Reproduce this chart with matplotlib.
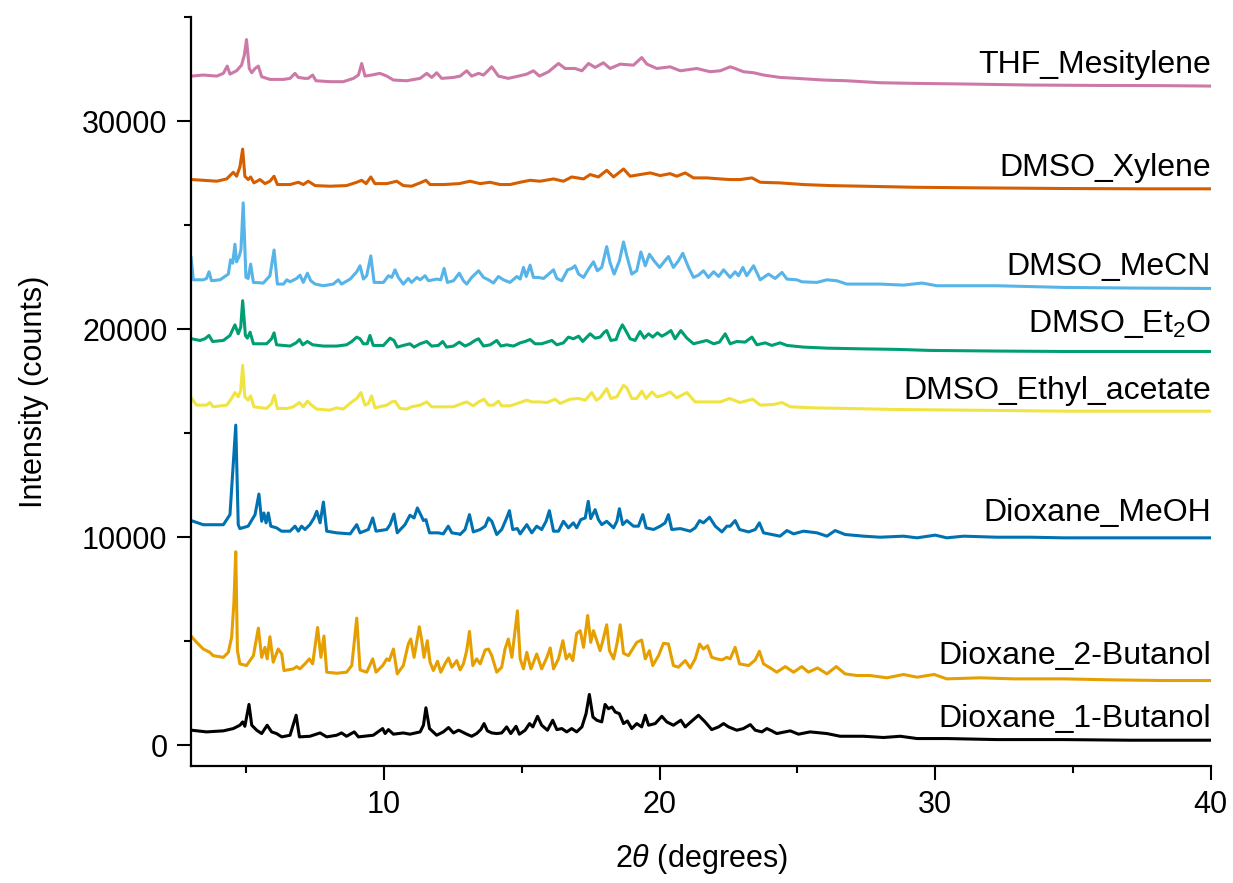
import matplotlib
matplotlib.use("Agg")
import matplotlib.pyplot as plt
from matplotlib.ticker import MultipleLocator

plt.rcParams['font.family'] = ['Liberation Sans', 'DejaVu Sans']
plt.rcParams['mathtext.fontset'] = 'custom'
plt.rcParams['mathtext.rm'] = 'Liberation Sans'
plt.rcParams['mathtext.it'] = 'Liberation Sans:italic'

# ---------------- data (2theta, stacked intensity) ----------------
names = ["Dioxane_1-Butanol", "Dioxane_2-Butanol", "Dioxane_MeOH",
         "DMSO_Ethyl_acetate", r"DMSO_Et$_2$O", "DMSO_MeCN",
         "DMSO_Xylene", "THF_Mesitylene"]
colors = ["#000000", "#E69F00", "#0072B2", "#F0E442",
          "#009E73", "#56B4E9", "#D55E00", "#CC79A7"]
label_y = [860, 3920, 10770, 16650, 19860, 22630, 27370, 32300]

but1_x = [3.02, 3.56, 4.17, 4.53, 4.77, 4.87, 4.95, 5.10, 5.20, 5.38, 5.56, 5.76, 5.92, 6.10, 6.29, 6.59, 6.81, 6.93,
          7.31, 7.68, 7.92, 8.28, 8.46, 8.64, 8.92, 9.07, 9.61, 9.95, 10.04, 10.16, 10.34, 10.70, 10.94, 11.31, 11.43,
          11.52, 11.65, 11.91, 12.15, 12.34, 12.52, 12.70, 12.76, 13.00, 13.18, 13.36, 13.51, 13.63, 13.75, 13.91,
          14.09, 14.27, 14.45, 14.60, 14.79, 14.91, 15.12, 15.28, 15.40, 15.57, 15.72, 15.93, 16.12, 16.27, 16.45,
          16.63, 16.81, 16.99, 17.18, 17.33, 17.45, 17.58, 17.72, 17.90, 18.02, 18.14, 18.27, 18.39, 18.54, 18.69,
          18.83, 18.99, 19.17, 19.35, 19.48, 19.60, 19.84, 20.08, 20.26, 20.50, 20.77, 20.93, 21.17, 21.41, 21.65,
          21.89, 22.14, 22.32, 22.50, 22.80, 23.04, 23.29, 23.47, 23.71, 23.89, 24.07, 24.25, 24.74, 25.04, 25.46,
          26.07, 26.55, 27.40, 28.12, 28.73, 29.34, 30.42, 32.24, 34.66, 37.08, 40.0]
but1_y = [720, 640, 690, 800, 960, 1120, 910, 1960, 960, 720, 560, 960, 640, 560, 400, 480, 1440, 400,
          430, 590, 400, 480, 590, 430, 640, 400, 480, 800, 560, 750, 530, 590, 530, 640, 960,
          1800, 800, 480, 640, 850, 590, 720, 690, 530, 430, 560, 750, 1040, 690, 590,
          560, 590, 880, 560, 910, 530, 720, 1040, 880, 1390, 960, 720, 1200, 750, 800,
          640, 800, 640, 880, 1515, 2440, 1355, 1200, 1120, 1960, 1755, 1835, 1595, 1515, 1040,
          1165, 800, 1040, 880, 1440, 960, 1040, 1390, 1120, 960, 1200, 880, 1165, 1440, 1120,
          750, 880, 1040, 880, 720, 800, 990, 720, 640, 800, 690, 560, 690, 530, 640,
          560, 430, 430, 370, 430, 320, 320, 270, 270, 240, 240]

but2_x = [3.02, 3.20, 3.44, 3.68, 3.80, 4.17, 4.35, 4.47, 4.55, 4.62, 4.68, 4.77, 5.01, 5.26, 5.44, 5.56, 5.68,
          5.76, 5.86, 5.98, 6.16, 6.29, 6.37, 6.71, 6.83, 6.95, 7.13, 7.29, 7.41, 7.59, 7.71, 7.82, 7.92, 8.28,
          8.64, 8.83, 9.01, 9.13, 9.37, 9.59, 9.71, 9.95, 10.10, 10.19, 10.34, 10.48, 10.70, 10.88, 10.97, 11.09,
          11.28, 11.37, 11.45, 11.57, 11.67, 11.79, 11.94, 12.06, 12.21, 12.34, 12.46, 12.64, 12.76, 12.88, 13.00,
          13.10, 13.22, 13.36, 13.49, 13.67, 13.79, 13.91, 14.09, 14.27, 14.39, 14.51, 14.64, 14.76, 14.84, 14.94,
          15.06, 15.18, 15.33, 15.54, 15.72, 15.91, 16.03, 16.15, 16.33, 16.49, 16.61, 16.73, 16.85, 16.99, 17.12,
          17.24, 17.39, 17.50, 17.60, 17.72, 17.84, 17.94, 18.08, 18.18, 18.33, 18.45, 18.57, 18.69, 18.87, 19.00,
          19.17, 19.35, 19.48, 19.63, 19.75, 19.96, 20.14, 20.32, 20.50, 20.68, 20.93, 21.11, 21.29, 21.45, 21.59,
          21.74, 21.89, 22.08, 22.26, 22.44, 22.56, 22.74, 22.90, 23.23, 23.47, 23.62, 23.77, 24.07, 24.25, 24.56,
          24.86, 25.16, 25.40, 25.73, 26.07, 26.41, 26.73, 27.16, 27.64, 28.25, 28.85, 29.34, 29.96, 30.42, 31.63,
          32.84, 34.66, 36.47, 38.29, 40.0]
but2_y = [5215, 4945, 4625, 4465, 4305, 4225, 4465, 5185, 6780, 9300, 4545, 3910, 3830, 4305, 5630, 4225, 4705,
          4150, 5215, 3990, 4625, 4385, 3590, 3670, 3780, 3670, 3910, 4150, 3910, 5660, 4225, 5250, 3510, 3460,
          3510, 3830, 6110, 3620, 3510, 4150, 3510, 3830, 4150, 4070, 4625, 3430, 3830, 4865, 5105, 4225,
          5695, 5025, 4225, 5025, 3990, 3590, 4035, 3510, 3910, 4195, 3750, 4070, 3620, 3910, 4545,
          5470, 3830, 4150, 3910, 4580, 4625, 4305, 3510, 3750, 4625, 5105, 4225, 5580, 6460, 4150,
          3670, 4465, 3670, 4385, 3670, 4225, 4675, 3670, 4150, 5025, 4150, 4385, 4070, 5375, 5505,
          4705, 6235, 4945, 5505, 5025, 4545, 5025, 5790, 4545, 4150, 4865, 5790, 4420, 4305, 4580,
          4945, 5055, 4150, 4545, 3830, 4305, 4900, 4865, 3830, 3750, 4070, 3715, 4150, 4865, 4625,
          4785, 4225, 4150, 4100, 4225, 4150, 4705, 3910, 3830, 4100, 4515, 3910, 3670, 3510, 3780,
          3510, 3780, 3510, 3715, 3430, 3780, 3430, 3350, 3350, 3240, 3400, 3270, 3400, 3190, 3240,
          3190, 3190, 3140, 3110, 3110]

meoh_x = [3.00, 3.44, 4.17, 4.41, 4.62, 4.71, 4.77, 5.07, 5.32, 5.46, 5.56, 5.64, 5.72, 5.80, 5.89, 6.10, 6.28,
          6.59, 6.77, 6.89, 7.01, 7.13, 7.31, 7.46, 7.56, 7.68, 7.80, 7.92, 8.28, 8.77, 9.01, 9.13, 9.43, 9.59,
          9.71, 10.10, 10.22, 10.36, 10.48, 10.76, 10.94, 11.09, 11.21, 11.33, 11.43, 11.52, 11.65, 11.97, 12.15,
          12.33, 12.46, 12.70, 12.76, 12.94, 13.10, 13.24, 13.49, 13.67, 13.79, 13.91, 14.09, 14.27, 14.45, 14.55,
          14.67, 14.84, 14.94, 15.18, 15.36, 15.54, 15.72, 15.88, 16.00, 16.15, 16.33, 16.51, 16.69, 16.87, 16.99,
          17.14, 17.30, 17.41, 17.50, 17.66, 17.78, 17.90, 18.08, 18.33, 18.45, 18.54, 18.66, 18.81, 19.05, 19.23,
          19.39, 19.51, 19.78, 20.02, 20.20, 20.32, 20.44, 20.75, 21.11, 21.29, 21.45, 21.59, 21.81, 22.02, 22.26,
          22.44, 22.56, 22.74, 22.90, 23.23, 23.47, 23.62, 23.77, 24.37, 24.62, 24.86, 25.22, 25.71, 26.07, 26.37,
          26.73, 27.40, 28.00, 28.85, 29.34, 30.00, 30.42, 31.03, 32.24, 33.45, 34.66, 35.87, 37.68, 40.0]
meoh_y = [10800, 10600, 10600, 11085, 15390, 10600, 10415, 10530, 11085, 12075, 10765, 11165, 10690, 11165, 10530,
          10450, 10290, 10290, 10530, 10290, 10530, 10370, 10605, 10925, 11245, 10690, 11690, 10290, 10210, 10160,
          10605, 10210, 10370, 10925, 10290, 10370, 10605, 11115, 10210, 10605, 11055, 10925, 11405, 11085, 10800,
          10845, 10210, 10210, 10160, 10530, 10210, 10160, 10130, 10370, 11085, 10255, 10370, 10530, 10925, 10765,
          10130, 10370, 10925, 11275, 10370, 10415, 10160, 10605, 10210, 10530, 10370, 10765, 11275, 10290, 10290,
          10765, 10450, 10690, 10450, 10845, 10925, 11725, 10895, 11325, 10845, 10605, 10765, 10450, 10765, 11370,
          10605, 10800, 10530, 10530, 11085, 10450, 10370, 10530, 10690, 11085, 10370, 10415, 10290, 10450, 10800,
          10690, 10960, 10530, 10255, 10530, 10530, 10800, 10370, 10255, 10370, 10690, 10210, 10050, 10320, 10160,
          10290, 10210, 10050, 10320, 10130, 10050, 10000, 10050, 9970, 10100, 9970, 10050, 10000, 10000, 9970,
          9970, 9970, 9970]

etac_x = [3.02, 3.20, 3.56, 3.68, 3.80, 4.29, 4.47, 4.59, 4.71, 4.80, 4.87, 4.95, 5.07, 5.16, 5.28, 5.74, 5.92,
          6.02, 6.13, 6.47, 6.71, 6.93, 7.07, 7.22, 7.37, 7.56, 8.04, 8.28, 8.52, 8.83, 9.01, 9.16, 9.31, 9.43,
          9.55, 9.67, 10.10, 10.28, 10.40, 10.58, 10.82, 11.00, 11.31, 11.55, 11.73, 12.15, 12.52, 12.73, 13.00,
          13.24, 13.43, 13.63, 13.79, 13.97, 14.15, 14.27, 14.57, 14.94, 15.18, 15.36, 15.66, 15.91, 16.21, 16.39,
          16.75, 17.06, 17.30, 17.54, 17.70, 17.84, 18.08, 18.23, 18.45, 18.69, 18.81, 18.99, 19.17, 19.35, 19.51,
          19.72, 19.90, 20.14, 20.38, 20.62, 20.99, 21.29, 21.71, 22.20, 22.54, 22.92, 23.38, 23.65, 24.13, 24.44,
          24.74, 25.58, 26.79, 28.61, 31.03, 34.66, 37.08, 40.0]
etac_y = [16670, 16350, 16350, 16475, 16270, 16350, 16670, 16955, 16750, 17065, 18260, 16750, 16590, 16795, 16270,
          16190, 16430, 16825, 16190, 16190, 16270, 16475, 16270, 16540, 16350, 16160, 16110, 16220, 16160, 16505,
          16670, 16955, 16350, 16430, 16795, 16220, 16350, 16505, 16540, 16190, 16160, 16270, 16350, 16505, 16270,
          16270, 16270, 16380, 16505, 16315, 16505, 16635, 16350, 16350, 16540, 16315, 16315, 16475, 16590, 16505,
          16505, 16475, 16635, 16430, 16635, 16670, 16590, 16955, 16590, 16700, 17145, 16670, 16750, 17305, 17180,
          16670, 16670, 17020, 16670, 16985, 16750, 16825, 16985, 16700, 16955, 16505, 16505, 16505, 16670, 16475,
          16635, 16350, 16380, 16475, 16270, 16220, 16190, 16140, 16110, 16060, 16060, 16060]

et2o_x = [3.02, 3.32, 3.50, 3.65, 3.78, 4.17, 4.41, 4.59, 4.71, 4.80, 4.87, 4.97, 5.04, 5.14, 5.26, 5.74, 5.92,
          6.01, 6.10, 6.59, 6.81, 6.93, 7.05, 7.22, 7.41, 7.80, 8.28, 8.64, 8.83, 9.01, 9.13, 9.25, 9.39, 9.49,
          9.61, 9.98, 10.22, 10.36, 10.48, 10.70, 10.94, 11.09, 11.31, 11.55, 11.73, 11.97, 12.13, 12.27, 12.52,
          12.73, 12.94, 13.12, 13.30, 13.43, 13.61, 13.85, 14.09, 14.24, 14.45, 14.70, 14.94, 15.12, 15.30, 15.48,
          15.72, 15.91, 16.09, 16.27, 16.51, 16.69, 16.87, 17.06, 17.21, 17.36, 17.48, 17.66, 17.84, 17.99, 18.08,
          18.23, 18.42, 18.54, 18.65, 18.77, 18.93, 19.11, 19.29, 19.44, 19.60, 19.75, 19.92, 20.08, 20.24, 20.41,
          20.56, 20.77, 20.99, 21.23, 21.47, 21.71, 21.96, 22.17, 22.38, 22.56, 22.80, 23.10, 23.35, 23.53, 23.83,
          24.07, 24.37, 24.62, 25.22, 26.07, 27.16, 28.61, 29.82, 32.24, 34.66, 37.08, 40.0]
et2o_y = [19540, 19460, 19540, 19700, 19410, 19460, 19700, 20210, 19780, 20095, 21370, 19700, 19570, 19855, 19300,
          19300, 19540, 19825, 19250, 19190, 19345, 19505, 19250, 19410, 19250, 19190, 19190, 19250, 19410, 19620,
          19540, 19300, 19300, 19700, 19220, 19220, 19570, 19460, 19140, 19220, 19300, 19140, 19300, 19410, 19190,
          19220, 19410, 19140, 19190, 19380, 19190, 19300, 19460, 19540, 19190, 19250, 19460, 19190, 19250, 19190,
          19345, 19410, 19505, 19300, 19300, 19380, 19460, 19250, 19345, 19620, 19540, 19665, 19410, 19620, 19780,
          19570, 19620, 19855, 19935, 19460, 19505, 19935, 20210, 19935, 19540, 19460, 19890, 19570, 19780, 19620,
          19825, 19665, 19780, 19935, 19540, 19935, 19570, 19300, 19380, 19460, 19300, 19380, 19780, 19300, 19410,
          19380, 19620, 19250, 19345, 19220, 19345, 19220, 19140, 19090, 19060, 19030, 18980, 18950, 18930, 18930,
          18930]

mecn_x = [3.00, 3.08, 3.44, 3.56, 3.65, 3.74, 4.05, 4.35, 4.43, 4.51, 4.59, 4.65, 4.75, 4.81, 4.89, 4.99, 5.07,
          5.16, 5.26, 5.62, 5.86, 6.01, 6.13, 6.35, 6.47, 6.59, 6.83, 6.95, 7.07, 7.22, 7.34, 7.50, 7.80, 8.16,
          8.34, 8.46, 8.77, 9.01, 9.13, 9.25, 9.37, 9.52, 9.64, 9.98, 10.16, 10.28, 10.40, 10.52, 10.70, 10.88,
          11.00, 11.19, 11.31, 11.49, 11.61, 11.91, 12.06, 12.18, 12.30, 12.52, 12.73, 12.88, 13.00, 13.18, 13.43,
          13.61, 13.79, 13.97, 14.15, 14.33, 14.57, 14.82, 14.94, 15.06, 15.16, 15.30, 15.42, 15.60, 15.79, 15.97,
          16.15, 16.27, 16.45, 16.66, 16.81, 16.93, 17.06, 17.24, 17.42, 17.60, 17.74, 17.90, 18.08, 18.20, 18.35,
          18.54, 18.69, 18.81, 18.99, 19.17, 19.32, 19.48, 19.63, 19.80, 20.00, 20.16, 20.32, 20.50, 20.68, 20.84,
          21.05, 21.23, 21.41, 21.59, 21.77, 21.96, 22.14, 22.32, 22.56, 22.74, 22.86, 23.02, 23.16, 23.41, 23.65,
          23.95, 24.19, 24.44, 24.62, 24.98, 25.16, 25.71, 26.07, 26.43, 26.79, 28.00, 28.85, 29.52, 30.06, 32.24,
          34.66, 37.08, 40.0]
mecn_y = [23445, 22375, 22375, 22440, 22760, 22330, 22375, 22650, 23335, 23175, 24085, 23240, 23525, 23845, 26075,
          22490, 22440, 23130, 22250, 22220, 22570, 23810, 22170, 22170, 22375, 22280, 22440, 22600, 22250, 22695,
          22330, 22170, 22090, 22170, 22375, 22170, 22410, 22760, 23050, 22410, 22570, 23525, 22250, 22250, 22570,
          22490, 22855, 22490, 22170, 22440, 22250, 22490, 22375, 22570, 22330, 22410, 22375, 22920, 22250, 22330,
          22695, 22330, 22170, 22490, 22810, 22490, 22375, 22220, 22535, 22375, 22250, 22535, 22410, 22970, 22535,
          23080, 22490, 22490, 22440, 22650, 22855, 22440, 22330, 22855, 22920, 23050, 22650, 22490, 22890, 23240,
          22810, 22970, 23970, 23205, 22650, 23285, 24195, 23525, 22650, 22810, 23715, 23050, 23605, 23285, 22970,
          23240, 23495, 22970, 23285, 23650, 22970, 22490, 22600, 22810, 22490, 22760, 22535, 22855, 22490, 22760,
          22570, 22970, 22570, 23050, 22375, 22650, 22440, 22730, 22410, 22375, 22280, 22250, 22375, 22330, 22170,
          22170, 22120, 22220, 22090, 22090, 22010, 21980, 21960]

xyl_x = [3.02, 3.44, 3.93, 4.29, 4.53, 4.65, 4.77, 4.87, 4.95, 5.07, 5.16, 5.28, 5.50, 5.68, 5.86, 6.01, 6.13, 6.59,
         6.89, 7.07, 7.25, 7.50, 8.04, 8.64, 9.01, 9.19, 9.35, 9.52, 9.67, 10.10, 10.46, 10.70, 11.00, 11.31, 11.52,
         11.67, 12.15, 12.73, 13.12, 13.49, 13.85, 14.21, 14.57, 14.94, 15.30, 15.66, 16.15, 16.51, 16.81, 17.24,
         17.48, 17.78, 18.08, 18.33, 18.69, 18.93, 19.29, 19.66, 20.02, 20.38, 20.62, 20.93, 21.23, 21.71, 22.20,
         22.56, 22.92, 23.35, 23.65, 24.37, 25.22, 26.19, 27.40, 29.21, 31.63, 34.66, 37.68, 40.0]
xyl_y = [27195, 27160, 27115, 27225, 27545, 27355, 27800, 28660, 27355, 27195, 27320, 27035, 27195, 27000, 27115,
         27355, 26955, 26955, 27065, 26955, 27115, 26905, 26875, 26905, 27065, 27160, 27000, 27320, 27000, 27000,
         27115, 26905, 26875, 27035, 27160, 26955, 26955, 27000, 27115, 27000, 27065, 26955, 26955, 27065, 27160,
         27115, 27225, 27115, 27320, 27225, 27435, 27320, 27640, 27320, 27705, 27355, 27435, 27515, 27385, 27480,
         27355, 27515, 27275, 27275, 27225, 27195, 27195, 27275, 27065, 27035, 26955, 26905, 26875, 26825, 26795,
         26765, 26750, 26750]

thf_x = [3.02, 3.44, 3.93, 4.17, 4.31, 4.41, 4.65, 4.83, 4.93, 5.01, 5.11, 5.20, 5.32, 5.44, 5.56, 5.86, 6.35, 6.59,
         6.77, 6.89, 7.13, 7.25, 7.41, 7.53, 8.04, 8.52, 8.89, 9.07, 9.19, 9.31, 9.55, 9.85, 10.10, 10.34, 10.82,
         11.31, 11.55, 11.73, 11.91, 12.09, 12.52, 12.76, 13.00, 13.18, 13.43, 13.61, 13.91, 14.15, 14.51, 14.88,
         15.18, 15.42, 15.64, 15.97, 16.33, 16.57, 16.93, 17.18, 17.42, 17.66, 17.96, 18.20, 18.57, 19.05, 19.35,
         19.54, 19.90, 20.38, 20.75, 21.35, 21.83, 22.20, 22.56, 22.74, 23.04, 23.41, 23.77, 24.37, 24.98, 25.95,
         26.79, 28.00, 29.21, 31.03, 33.45, 35.87, 38.29, 40.0]
thf_y = [32170, 32220, 32170, 32300, 32650, 32265, 32425, 32695, 33175, 33925, 32535, 32330, 32535, 32650, 32140,
         32010, 32010, 32060, 32300, 32105, 32060, 32060, 32220, 31945, 31900, 31900, 32060, 32220, 32775, 32170,
         32220, 32300, 32170, 31980, 31945, 32060, 32300, 32105, 32330, 32060, 32105, 32170, 32425, 32170, 32300,
         32220, 32615, 32170, 32060, 32170, 32265, 32425, 32170, 32380, 32775, 32535, 32535, 32425, 32775, 32585,
         32810, 32535, 32745, 32695, 33060, 32745, 32535, 32615, 32425, 32535, 32380, 32425, 32615, 32535, 32380,
         32330, 32220, 32105, 32060, 31980, 31945, 31850, 31820, 31790, 31740, 31720, 31710, 31690]

series_x = [but1_x, but2_x, meoh_x, etac_x, et2o_x, mecn_x, xyl_x, thf_x]
series_y = [but1_y, but2_y, meoh_y, etac_y, et2o_y, mecn_y, xyl_y, thf_y]

x_ticks = [10, 20, 30, 40]
y_ticks = [0, 10000, 20000, 30000]

# ---------------- figure ----------------
fig = plt.figure(figsize=(12.33, 8.83), dpi=100)
ax = fig.add_axes([0.155, 0.1325, 0.827, 0.848])

for xs, ys, c in zip(series_x, series_y, colors):
    ax.plot(xs, ys, color=c, lw=2.2, solid_joinstyle='round')

for name, ly in zip(names, label_y):
    ax.text(40, ly, name, ha='right', va='baseline', fontsize=23, color='black')

ax.set_xlim(3, 40)
ax.set_ylim(-1000, 35000)
ax.set_xticks(x_ticks)
ax.set_yticks(y_ticks)
ax.xaxis.set_minor_locator(MultipleLocator(5))
ax.yaxis.set_minor_locator(MultipleLocator(5000))
ax.tick_params(which='major', direction='out', length=10, width=1.5, labelsize=22, pad=7)
ax.tick_params(which='minor', direction='out', length=5, width=1.5)
for s in ['top', 'right']:
    ax.spines[s].set_visible(False)
for s in ['left', 'bottom']:
    ax.spines[s].set_linewidth(1.6)

ax.set_xlabel(r'2$\it{\theta}$ (degrees)', fontsize=22, labelpad=16)
ax.set_ylabel('Intensity (counts)', fontsize=22, labelpad=24)

fig.savefig('out.png', dpi=100)
